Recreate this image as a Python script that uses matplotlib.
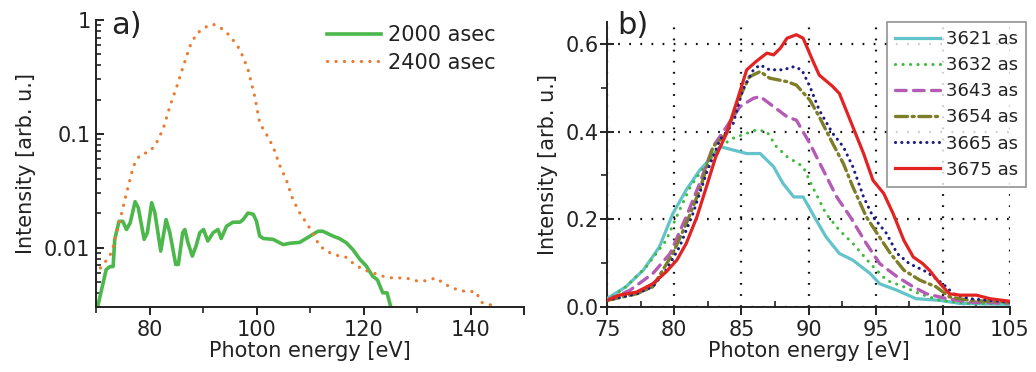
import matplotlib
matplotlib.use("Agg")
import matplotlib.pyplot as plt
from matplotlib.ticker import MultipleLocator, LogLocator, FixedLocator, NullFormatter, FuncFormatter

plt.rcParams['font.family'] = ['DejaVu Sans']
TXT = '#222222'
FS = 15

# ---------------- panel a data ----------------
a_e_2000 = [70.3, 71.9, 72.6, 73.2, 73.5, 74.3, 75.0, 75.7, 76.4, 77.3, 77.9, 79.0, 79.6, 80.4, 81.0,
            82.1, 83.1, 83.8, 84.9, 85.4, 86.2, 86.6, 87.2, 88.0, 88.7, 89.4, 90.1, 90.9, 91.9, 92.8,
            93.4, 94.4, 95.6, 96.9, 97.5, 98.4, 99.4, 100.0, 100.6, 101.3, 103.1, 105.0, 106.2, 108.1,
            110.0, 111.5, 112.4, 114.3, 115.5, 116.8, 118.0, 119.3, 120.5, 121.7, 122.6, 123.6, 124.4, 125.1]
a_v_2000 = [0.003, 0.0064, 0.0068, 0.0068, 0.0118, 0.017, 0.017, 0.0144, 0.0165, 0.0253, 0.0224, 0.0118,
            0.0135, 0.0248, 0.0203, 0.0093, 0.0176, 0.0135, 0.0071, 0.0071, 0.0135, 0.0144, 0.011, 0.0084,
            0.0103, 0.0135, 0.0144, 0.0114, 0.0135, 0.0144, 0.012, 0.0154, 0.0167, 0.0167, 0.0176, 0.0201,
            0.0196, 0.017, 0.0126, 0.012, 0.0118, 0.0106, 0.0109, 0.0111, 0.0126, 0.0139, 0.0139, 0.0126,
            0.012, 0.011, 0.0096, 0.0079, 0.0069, 0.0056, 0.0052, 0.0040, 0.0040, 0.0030]

a_e_2400 = [69.8, 71.4, 72.9, 74.5, 75.7, 77.0, 78.2, 80.1, 81.3, 82.6, 83.8, 85.1, 86.3, 87.5, 88.8,
            90.6, 91.8, 93.1, 95.0, 96.9, 98.4, 99.7, 100.6, 101.9, 103.1, 104.4, 105.6, 106.8, 108.1,
            109.3, 110.5, 111.8, 113.7, 115.5, 116.8, 118.0, 119.9, 121.7, 123.6, 125.4, 127.9, 129.8,
            131.7, 133.5, 135.4, 137.3, 139.1, 141.0, 142.0, 144.1, 144.8]
a_v_2400 = [0.0058, 0.0071, 0.009, 0.0176, 0.030, 0.052, 0.065, 0.070, 0.083, 0.112, 0.174, 0.26, 0.39,
            0.58, 0.76, 0.87, 0.92, 0.87, 0.73, 0.55, 0.37, 0.21, 0.124, 0.098, 0.077, 0.052, 0.039,
            0.0264, 0.0201, 0.0165, 0.0135, 0.0103, 0.009, 0.0084, 0.0082, 0.0073, 0.0064, 0.006, 0.0056,
            0.0054, 0.0054, 0.0051, 0.0051, 0.0054, 0.0047, 0.0043, 0.0041, 0.0041, 0.0033, 0.0031, 0.0030]

a_labels = ['2000 asec', '2400 asec']

# ---------------- panel b data ----------------
b_labels = ['3621 as', '3632 as', '3643 as', '3654 as', '3665 as', '3675 as']

b_e_3621 = [75.0, 76.4, 77.7, 78.9, 79.9, 80.9, 81.9, 82.6, 83.4, 84.4, 85.4, 86.4, 87.4, 88.1, 88.9,
            89.6, 90.3, 91.3, 92.3, 93.3, 94.6, 95.3, 96.6, 98.0, 99.8, 101.3, 105.0]
b_v_3621 = [0.019, 0.046, 0.084, 0.137, 0.213, 0.267, 0.312, 0.335, 0.366, 0.358, 0.350, 0.350, 0.320,
            0.282, 0.251, 0.251, 0.213, 0.160, 0.122, 0.107, 0.076, 0.053, 0.038, 0.019, 0.015, 0.008, 0.006]

b_e_3632 = [75.0, 76.4, 77.9, 79.4, 80.4, 81.2, 82.4, 83.4, 84.4, 85.4, 86.1, 86.9, 87.6, 88.4, 89.6,
            90.3, 91.3, 92.3, 93.3, 94.6, 95.8, 97.1, 98.3, 99.8, 102.0, 105.0]
b_v_3632 = [0.015, 0.046, 0.091, 0.152, 0.221, 0.274, 0.327, 0.366, 0.385, 0.396, 0.404, 0.400, 0.366,
            0.343, 0.320, 0.274, 0.213, 0.175, 0.145, 0.099, 0.061, 0.046, 0.030, 0.015, 0.008, 0.008]

b_e_3643 = [75.0, 76.7, 78.4, 79.7, 80.9, 81.9, 82.9, 83.9, 84.9, 85.9, 86.4, 87.4, 88.4, 89.1, 90.1,
            91.1, 92.1, 93.1, 94.3, 95.3, 96.6, 97.8, 98.8, 100.3, 102.0, 105.0]
b_v_3643 = [0.015, 0.038, 0.076, 0.122, 0.206, 0.282, 0.366, 0.411, 0.457, 0.476, 0.480, 0.457, 0.434,
            0.426, 0.373, 0.312, 0.251, 0.206, 0.145, 0.099, 0.069, 0.046, 0.030, 0.019, 0.011, 0.009]

b_e_3654 = [75.0, 77.2, 78.4, 79.9, 80.9, 81.9, 82.9, 83.9, 84.9, 85.6, 86.4, 87.1, 88.4, 89.1, 90.1,
            90.8, 91.8, 92.6, 93.3, 94.3, 95.1, 96.1, 97.1, 98.3, 99.5, 100.5, 102.0, 105.0]
b_v_3654 = [0.015, 0.030, 0.046, 0.122, 0.190, 0.267, 0.366, 0.396, 0.480, 0.525, 0.537, 0.522, 0.514,
            0.506, 0.472, 0.434, 0.373, 0.327, 0.274, 0.206, 0.168, 0.122, 0.084, 0.061, 0.046, 0.023,
            0.015, 0.011]

b_e_3665 = [75.0, 77.2, 78.4, 79.4, 80.4, 81.4, 82.4, 83.4, 84.4, 85.1, 85.9, 86.4, 87.1, 88.1, 88.9,
            89.5, 90.1, 90.8, 91.8, 92.6, 93.3, 94.1, 94.8, 95.8, 96.6, 97.5, 98.8, 100.0, 100.8, 102.0, 105.0]
b_v_3665 = [0.015, 0.030, 0.046, 0.084, 0.137, 0.213, 0.305, 0.381, 0.419, 0.495, 0.541, 0.552, 0.541,
            0.541, 0.548, 0.541, 0.503, 0.449, 0.396, 0.365, 0.320, 0.251, 0.206, 0.168, 0.122, 0.099,
            0.080, 0.053, 0.030, 0.019, 0.011]

b_e_3675 = [75.0, 75.9, 77.2, 78.4, 79.4, 80.2, 80.9, 81.7, 82.4, 83.1, 83.9, 84.7, 85.4, 86.1, 86.9,
            87.4, 87.9, 88.4, 89.1, 89.6, 90.3, 90.8, 91.8, 92.3, 92.8, 93.3, 94.1, 94.8, 95.6, 96.3,
            97.1, 97.8, 98.5, 99.0, 99.8, 100.5, 101.3, 102.5, 103.5, 105.0]
b_v_3675 = [0.015, 0.027, 0.034, 0.053, 0.080, 0.107, 0.145, 0.206, 0.274, 0.343, 0.396, 0.472, 0.541,
            0.560, 0.579, 0.575, 0.590, 0.613, 0.621, 0.613, 0.563, 0.529, 0.503, 0.487, 0.449, 0.411,
            0.350, 0.289, 0.259, 0.213, 0.152, 0.114, 0.099, 0.084, 0.053, 0.030, 0.027, 0.027, 0.019, 0.013]

b_x_ticks = [75, 80, 85, 90, 95, 100, 105]
b_y_ticks = [0.0, 0.2, 0.4, 0.6]

fig = plt.figure(figsize=(10.36, 3.72), dpi=100)

# ================= panel a =================
axa = fig.add_axes([96/1036, 1-307/372, (524-96)/1036, (307-20)/372])
axa.plot(a_e_2000, a_v_2000, color='#4cb84c', lw=2.6, label=a_labels[0], solid_joinstyle='round')
axa.plot(a_e_2400, a_v_2400, color='#ec7a30', lw=2.3, ls=(0, (0.05, 2.6)), dash_capstyle='round',
         label=a_labels[1])
axa.set_yscale('log')
axa.set_xlim(70, 150)
axa.set_ylim(0.003, 1.0)
axa.spines['top'].set_visible(False)
axa.spines['right'].set_visible(False)
for s in ['left', 'bottom']:
    axa.spines[s].set_linewidth(1.4)
    axa.spines[s].set_color(TXT)
axa.xaxis.set_major_locator(FixedLocator([80, 100, 120, 140, 150]))
axa.xaxis.set_major_formatter(FuncFormatter(lambda v, p: '' if v == 150 else f'{v:g}'))
axa.xaxis.set_minor_locator(FixedLocator([70, 90, 110, 130]))
axa.yaxis.set_major_locator(FixedLocator([0.01, 0.1, 1.0]))
axa.yaxis.set_major_formatter(FuncFormatter(lambda v, p: {0.01: '0.01', 0.1: '0.1', 1.0: '1'}.get(round(v, 4), '')))
axa.yaxis.set_minor_locator(LogLocator(base=10, subs=[2, 3, 4, 5, 6, 7, 8, 9]))
axa.yaxis.set_minor_formatter(NullFormatter())
axa.tick_params(axis='x', which='major', direction='out', length=6, width=1.4, colors=TXT,
                labelsize=FS, pad=3)
axa.tick_params(axis='x', which='minor', direction='out', length=4, width=1.2, colors=TXT)
axa.tick_params(axis='y', which='major', direction='in', length=6, width=1.4, colors=TXT,
                labelsize=FS, pad=4)
axa.tick_params(axis='y', which='minor', direction='in', length=3.5, width=1.2, colors=TXT)
axa.set_xlabel('Photon energy [eV]', fontsize=FS, color=TXT, labelpad=1)
axa.set_ylabel('Intensity [arb. u.]', fontsize=FS, color=TXT, labelpad=6)
axa.text(111/1036, 1-26/372, 'a)', transform=fig.transFigure, fontsize=22, color=TXT,
         ha='left', va='center')
leg_a = axa.legend(loc='upper right', bbox_to_anchor=(504/1036, 1-17/372), bbox_transform=fig.transFigure,
                   frameon=False, fontsize=FS, handlelength=2.6, handletextpad=0.35,
                   labelspacing=0.35, borderaxespad=0)
for t in leg_a.get_texts():
    t.set_color(TXT)

# ================= panel b =================
axb = fig.add_axes([607/1036, 1-307/372, (1010-607)/1036, (307-22)/372])
b_series = [(b_e_3621, b_v_3621, '#63c3cb', '-', 2.3),
            (b_e_3632, b_v_3632, '#3dbb3d', (0, (0.05, 2.4)), 2.2),
            (b_e_3643, b_v_3643, '#b45cb4', (0, (3.2, 2.2)), 2.4),
            (b_e_3654, b_v_3654, '#7e7e28', (0, (3.6, 1.4, 0.6, 1.4)), 2.4),
            (b_e_3665, b_v_3665, '#1c1c84', (0, (0.05, 2.0)), 2.2),
            (b_e_3675, b_v_3675, '#e32222', '-', 2.3)]
for (xe, yv, c, ls, lw), lab in zip(b_series, b_labels):
    line, = axb.plot(xe, yv, color=c, ls=ls, lw=lw, label=lab, zorder=3)
    line.set_dash_capstyle('round')
axb.set_xlim(75, 105)
axb.set_ylim(0, 0.65)
axb.spines['top'].set_visible(False)
axb.spines['right'].set_visible(False)
for s in ['left', 'bottom']:
    axb.spines[s].set_linewidth(1.4)
    axb.spines[s].set_color(TXT)
axb.xaxis.set_major_locator(FixedLocator(b_x_ticks))
axb.xaxis.set_minor_locator(MultipleLocator(2.5))
axb.yaxis.set_major_locator(FixedLocator(b_y_ticks))
axb.yaxis.set_major_formatter(FuncFormatter(lambda v, p: f'{v:.1f}'))
axb.yaxis.set_minor_locator(MultipleLocator(0.1))
axb.tick_params(axis='x', which='major', direction='out', length=6, width=1.4, colors=TXT,
                labelsize=FS, pad=3)
axb.tick_params(axis='x', which='minor', direction='in', length=4, width=1.2, colors=TXT)
axb.tick_params(axis='y', which='major', direction='inout', length=10, width=1.4, colors=TXT,
                labelsize=FS, pad=1)
axb.tick_params(axis='y', which='minor', direction='out', length=4, width=1.2, colors=TXT)
axb.grid(True, which='major', color='#111111', ls=(0, (0.8, 4.2)), lw=1.6, zorder=1)
axb.set_axisbelow(True)
axb.set_xlabel('Photon energy [eV]', fontsize=FS, color=TXT, labelpad=1)
axb.set_ylabel('Intensity [arb. u.]', fontsize=FS, color=TXT, labelpad=5)
axb.text(617/1036, 1-26/372, 'b)', transform=fig.transFigure, fontsize=22, color=TXT,
         ha='left', va='center')
leg_b = axb.legend(loc='upper right', bbox_to_anchor=(1026/1036, 1-22/372), bbox_transform=fig.transFigure,
                   frameon=True, fancybox=False, fontsize=13, handlelength=2.5, handletextpad=0.3,
                   labelspacing=0.45, borderaxespad=0, borderpad=0.45)
leg_b.get_frame().set_edgecolor('#777777')
leg_b.get_frame().set_linewidth(1.2)
for t in leg_b.get_texts():
    t.set_color(TXT)

fig.savefig('out.png', dpi=100)
